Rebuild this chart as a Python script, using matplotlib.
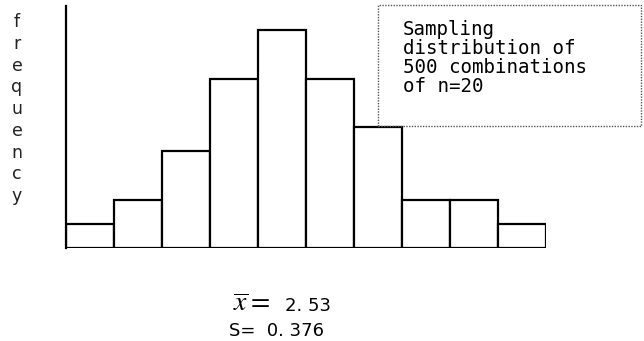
import numpy as np
import matplotlib
matplotlib.use("Agg")
import matplotlib.pyplot as plt
from matplotlib.patches import Rectangle

# counts per class
counts = [1, 2, 4, 7, 9, 7, 5, 2, 2, 1]
ylabel = "frequency"
box_text = "Sampling\ndistribution of\n500 combinations\nof n=20"
mean_text = "2. 53"
sd_text = "S=  0. 376"

W, H = 644, 341
fig = plt.figure(figsize=(W / 100, H / 100), dpi=100)
plt.rcParams['mathtext.fontset'] = 'stix'

# axes placed in pixel units of the reference
left, right, top, bottom = 66, 546, 6, 248
ax = fig.add_axes([left / W, (H - bottom) / H, (right - left) / W, (bottom - top) / H])

x = np.arange(len(counts)) + 0.5
ax.bar(x, counts, width=1.0, color='white', edgecolor='black', linewidth=1.6)
ax.set_xlim(0, len(counts))
ax.set_ylim(0, 10)
ax.set_xticks([])
ax.set_yticks([])
for s in ['top', 'right', 'bottom']:
    ax.spines[s].set_visible(False)
ax.spines['left'].set_linewidth(1.6)

# vertical "frequency" label
fig.text(17 / W, 1 - 13 / H, "\n".join(ylabel), ha='center', va='top',
         fontsize=12.5, family='DejaVu Sans', color='#222222', linespacing=1.27)

# dotted box with caption
box = Rectangle((378 / W, 1 - 126 / H), (641 - 378) / W, (126 - 5) / H,
                transform=fig.transFigure, fill=False, edgecolor='#555555',
                linestyle=(0, (1, 1)), linewidth=1.0)
fig.add_artist(box)
fig.text(403 / W, 1 - 20 / H, box_text, ha='left', va='top', fontsize=13.8,
         family='DejaVu Sans Mono', color='black', linespacing=1.0)

# mean and s.d. below the chart
fig.text(233 / W, 1 - 311 / H, r"$\overline{x}=$", ha='left', va='baseline',
         fontsize=20, color='black')
fig.text(285 / W, 1 - 311 / H, mean_text, ha='left', va='baseline',
         fontsize=13, family='DejaVu Sans', color='black')
fig.text(229 / W, 1 - 336 / H, sd_text, ha='left', va='baseline',
         fontsize=13, family='DejaVu Sans', color='black')

fig.savefig("out.png", dpi=100)
